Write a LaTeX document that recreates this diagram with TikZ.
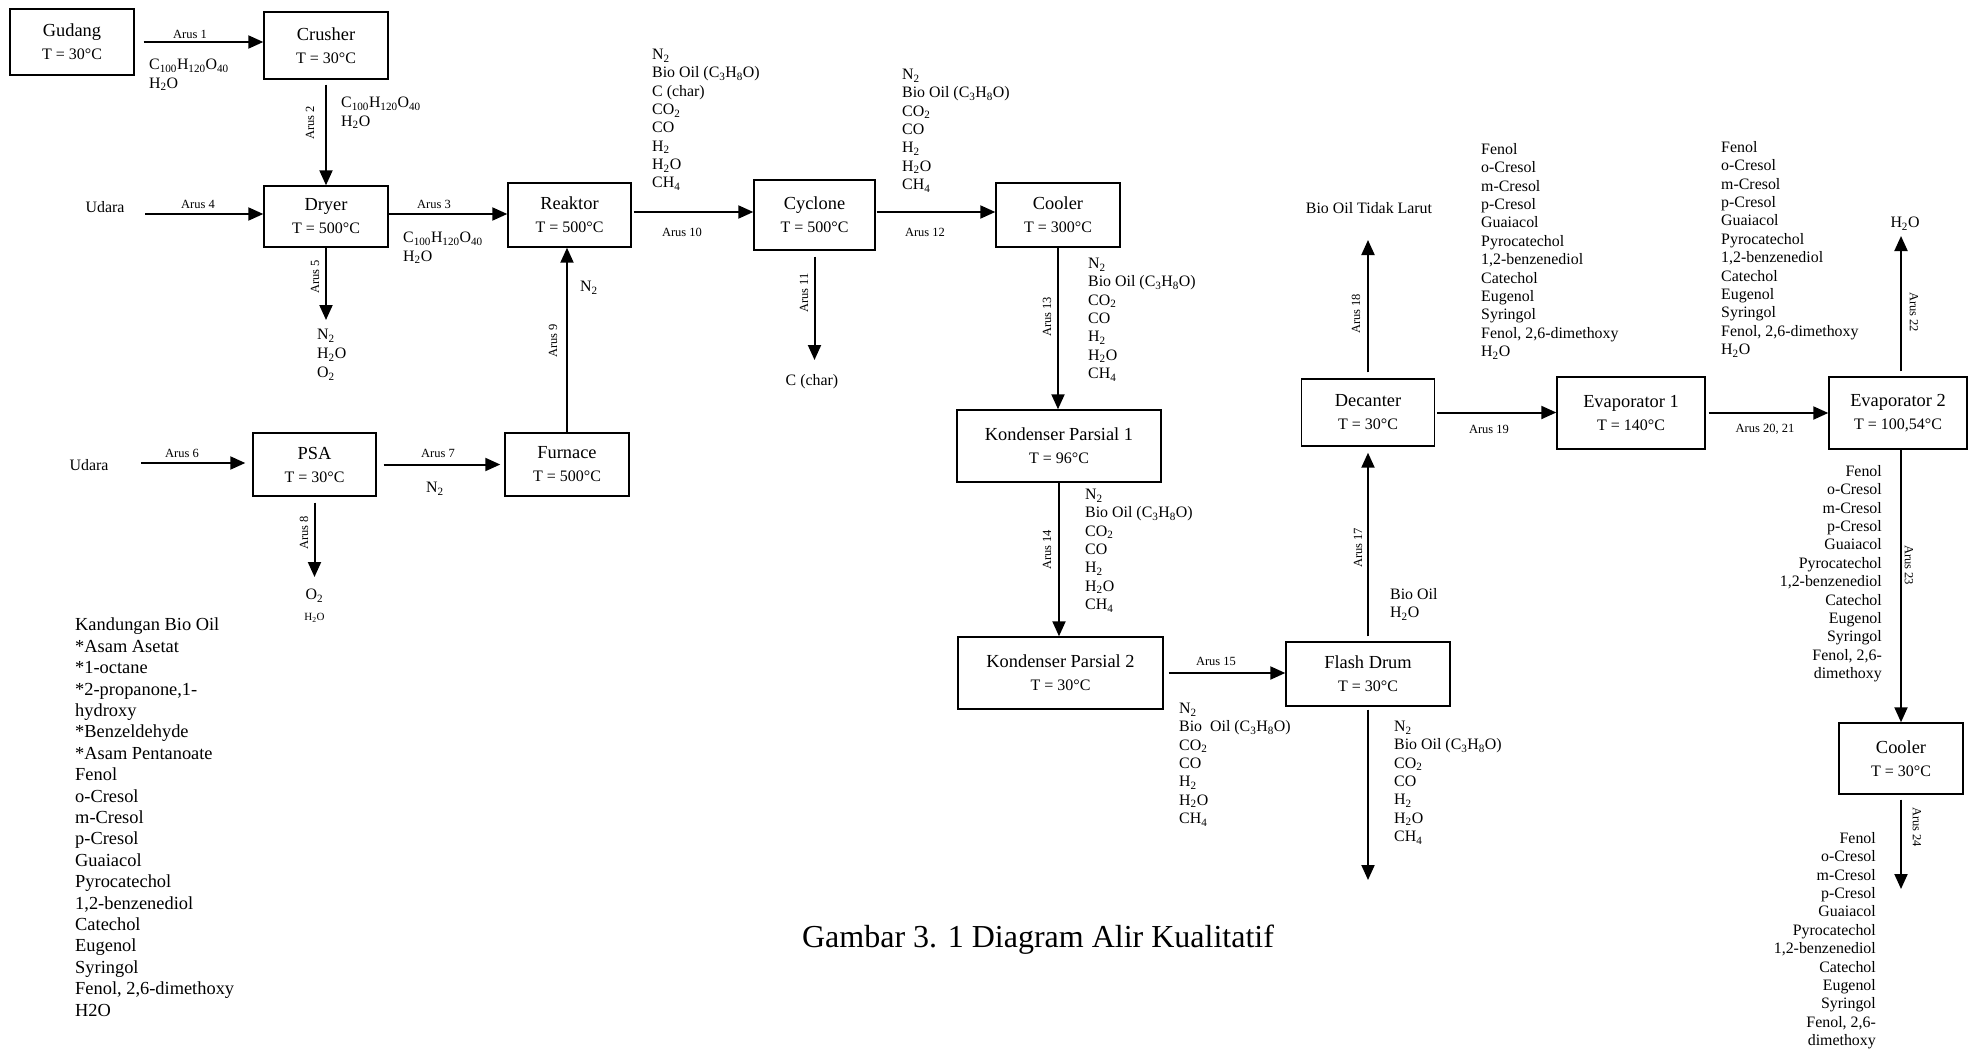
\documentclass[tikz,border=0pt]{standalone}
\usepackage{fontspec}
\setmainfont{Liberation Serif}
\usetikzlibrary{arrows.meta}
\newcommand\sbs[1]{\textsubscript{#1}}
\newcommand\bxt[2]{{\fontsize{18.4}{23}\selectfont #1}\\#2}
\newcommand\gaslist{N\sbs{2}\\Bio Oil (C\sbs{3}H\sbs{8}O)\\CO\sbs{2}\\CO\\H\sbs{2}\\H\sbs{2}O\\CH\sbs{4}}
\begin{document}
\begin{tikzpicture}[x=1pt,y=-1pt,
  box/.style={draw,line width=1.4pt,inner sep=0pt,align=center,font=\fontsize{16}{23}\selectfont},
  arr/.style={line width=2pt,-{Triangle[length=15pt,width=13pt]}},
  lab/.style={font=\fontsize{12.5}{14}\selectfont,inner sep=0pt},
  lst/.style={font=\fontsize{15.9}{18.3}\selectfont,inner sep=0pt,align=left,anchor=north west,execute at begin node=\strut},
  lstr/.style={lst,align=right,anchor=north east},
  txt/.style={font=\fontsize{15.9}{18.3}\selectfont,inner sep=0pt}]
\useasboundingbox (0,0) rectangle (1977,1052);
\fill[white] (0,0) rectangle (1977,1052);

% boxes
\node[box,minimum width=124pt,minimum height=66pt] (gudang) at (72,42) {\bxt{Gudang}{T = 30°C}};
\node[box,minimum width=124pt,minimum height=67pt] (crusher) at (326,45.5) {\bxt{Crusher}{T = 30°C}};
\node[box,minimum width=124pt,minimum height=61pt] (dryer) at (326,216.5) {\bxt{Dryer}{T = 500°C}};
\node[box,minimum width=123pt,minimum height=64pt] (reaktor) at (569.5,215) {\bxt{Reaktor}{T = 500°C}};
\node[box,minimum width=121pt,minimum height=70pt] (cyclone) at (814.5,215) {\bxt{Cyclone}{T = 500°C}};
\node[box,minimum width=124pt,minimum height=64pt] (cooler) at (1058,215) {\bxt{Cooler}{T = 300°C}};
\node[box,minimum width=204pt,minimum height=72pt] (kp1) at (1059,446) {\bxt{Kondenser Parsial 1}{T = 96°C}};
\node[box,minimum width=205pt,minimum height=72pt] (kp2) at (1060.5,673) {\bxt{Kondenser Parsial 2}{T = 30°C}};
\node[box,minimum width=164pt,minimum height=64pt] (flash) at (1368,674) {\bxt{Flash Drum}{T = 30°C}};
\node[box,minimum width=133pt,minimum height=67pt] (decanter) at (1368,412.5) {\bxt{Decanter}{T = 30°C}};
\node[box,minimum width=148pt,minimum height=72pt] (evap1) at (1631,413) {\bxt{Evaporator 1}{T = 140°C}};
\node[box,minimum width=138pt,minimum height=72pt] (evap2) at (1898,413) {\bxt{Evaporator 2}{T = 100,54°C}};
\node[box,minimum width=124pt,minimum height=71pt] (cooler2) at (1901,758.5) {\bxt{Cooler}{T = 30°C}};
\node[box,minimum width=123pt,minimum height=63pt] (psa) at (314.5,464.5) {\bxt{PSA}{T = 30°C}};
\node[box,minimum width=124pt,minimum height=63pt] (furnace) at (567,464.5) {\bxt{Furnace}{T = 500°C}};

% free ends
\coordinate (s4) at (145,214);
\coordinate (e5) at (326,320);
\coordinate (e11) at (814.5,360);
\coordinate (e16) at (1368,880);
\coordinate (e18) at (1368,240);
\coordinate (e22) at (1901,236);
\coordinate (e24) at (1901,889);
\coordinate (s6) at (141,463);
\coordinate (e8) at (314.5,577);

% connectors
\draw[arr] ([xshift=9pt]gudang.east) -- (gudang.east -| crusher.west);
\draw[arr] ([yshift=-5pt]crusher.south) -- (dryer.north);
\draw[arr] (s4) -- (s4 -| dryer.west);
\draw[arr] (s4 -| dryer.east) -- (s4 -| reaktor.west);
\draw[arr] (dryer.south) -- (e5);
\draw[arr] ([xshift=2pt,yshift=3pt]reaktor.east) -- ([yshift=3pt]cyclone.west);
\draw[arr] ([xshift=1pt,yshift=3pt]cyclone.east) -- ([yshift=3pt]cooler.west);
\draw[arr] ([yshift=-6pt]cyclone.south) -- (e11);
\draw[arr] (cooler.south) -- (cooler.south |- kp1.north);
\draw[arr] (kp1.south) -- (kp1.south |- kp2.north);
\draw[arr] ([xshift=5pt]kp2.east) -- (kp2.east -| flash.west);
\draw[arr] ([yshift=-3pt]flash.south) -- (e16);
\draw[arr] ([yshift=5pt]flash.north) -- ([yshift=-6pt]decanter.south);
\draw[arr] ([yshift=6pt]decanter.north) -- (e18);
\draw[arr] ([xshift=2pt]decanter.east) -- (decanter.east -| evap1.west);
\draw[arr] ([xshift=3pt]evap1.east) -- (evap1.east -| evap2.west);
\draw[arr] ([xshift=3pt,yshift=5pt]evap2.north) -- (e22);
\draw[arr] (cooler2.north |- evap2.south) -- (cooler2.north);
\draw[arr] ([yshift=-5pt]cooler2.south) -- (e24);
\draw[arr] (s6) -- ([xshift=-7pt]s6 -| psa.west);
\draw[arr] ([xshift=7pt]psa.east) -- ([xshift=-4pt]furnace.west);
\draw[arr] ([yshift=-6pt]psa.south) -- (e8);
\draw[arr] (furnace.north) -- (furnace.north |- reaktor.south);

% stream labels
\node[lab] (a1) at (190,34) {Arus 1};
\node[lab,rotate=90] (a2) at (310,123) {Arus 2};
\node[lab] (a4) at (198,204) {Arus 4};
\node[lab] (a3) at (434,204) {Arus 3};
\node[lab,rotate=90] (a5) at (315,277) {Arus 5};
\node[lab] (a10) at (682,232) {Arus 10};
\node[lab] (a12) at (925,232) {Arus 12};
\node[lab,rotate=90] (a11) at (804,293) {Arus 11};
\node[lab,rotate=90] (a13) at (1047,317) {Arus 13};
\node[lab,rotate=90] (a14) at (1047,550) {Arus 14};
\node[lab] (a15) at (1216,661) {Arus 15};
\node[lab,rotate=90] (a17) at (1358,548) {Arus 17};
\node[lab,rotate=90] (a18) at (1356,314) {Arus 18};
\node[lab] (a19) at (1489,429) {Arus 19};
\node[lab] (a2021) at (1765,429) {Arus 20, 21};
\node[lab,rotate=-90] (a22) at (1914,312) {Arus 22};
\node[lab,rotate=-90] (a23) at (1909,565) {Arus 23};
\node[lab,rotate=-90] (a24) at (1917,827) {Arus 24};
\node[lab] (a6) at (182,453) {Arus 6};
\node[lab] (a7) at (438,453) {Arus 7};
\node[lab,rotate=90] (a8) at (304,533) {Arus 8};
\node[lab,rotate=90] (a9) at (553,341) {Arus 9};

% composition lists
\node[lst] (f1) at (149,59) {C\sbs{100}H\sbs{120}O\sbs{40}\\H\sbs{2}O};
\node[lst] (f2) at (341,97) {C\sbs{100}H\sbs{120}O\sbs{40}\\H\sbs{2}O};
\node[lst] (f3) at (403,232) {C\sbs{100}H\sbs{120}O\sbs{40}\\H\sbs{2}O};
\node[lst,font=\fontsize{15.9}{19}\selectfont] (l5) at (317,329) {N\sbs{2}\\H\sbs{2}O\\O\sbs{2}};
\node[lst] (l10) at (652,49) {N\sbs{2}\\Bio Oil (C\sbs{3}H\sbs{8}O)\\C (char)\\CO\sbs{2}\\CO\\H\sbs{2}\\H\sbs{2}O\\CH\sbs{4}};
\node[lst] (l12) at (902,69) {\gaslist};
\node[lst] (l13) at (1088,258) {\gaslist};
\node[lst] (l14) at (1085,489) {\gaslist};
\node[lst] (l15) at (1179,703) {N\sbs{2}\\Bio\ \ Oil (C\sbs{3}H\sbs{8}O)\\CO\sbs{2}\\CO\\H\sbs{2}\\H\sbs{2}O\\CH\sbs{4}};
\node[lst] (l16) at (1394,721) {\gaslist};
\node[lst] (l17) at (1390,588) {Bio Oil\\H\sbs{2}O};
\node[lst,font=\fontsize{15.9}{18.4}\selectfont] (le1) at (1481,143) {Fenol\\o-Cresol\\m-Cresol\\p-Cresol\\Guaiacol\\Pyrocatechol\\1,2-benzenediol\\Catechol\\Eugenol\\Syringol\\Fenol, 2,6-dimethoxy\\H\sbs{2}O};
\node[lst,font=\fontsize{15.9}{18.4}\selectfont] (le2) at (1721,141) {Fenol\\o-Cresol\\m-Cresol\\p-Cresol\\Guaiacol\\Pyrocatechol\\1,2-benzenediol\\Catechol\\Eugenol\\Syringol\\Fenol, 2,6-dimethoxy\\H\sbs{2}O};
\node[lstr,font=\fontsize{15.9}{18.4}\selectfont] (l23) at (1882,465) {Fenol\\o-Cresol~\\m-Cresol\\p-Cresol~\\Guaiacol~\\Pyrocatechol\\1,2-benzenediol\\Catechol\\Eugenol\\Syringol\\Fenol, 2,6-\\dimethoxy};
\node[lstr,font=\fontsize{15.9}{18.4}\selectfont] (l24) at (1876,832) {Fenol\\o-Cresol~\\m-Cresol\\p-Cresol~\\Guaiacol~\\Pyrocatechol\\1,2-benzenediol\\Catechol\\Eugenol\\Syringol\\Fenol, 2,6-\\dimethoxy};
\node[lst,font=\fontsize{18.4}{21.4}\selectfont] (kand) at (75,618) {Kandungan Bio Oil\\*Asam Asetat\\*1-octane\\*2-propanone,1-\\hydroxy\\*Benzeldehyde\\*Asam Pentanoate\\Fenol\\o-Cresol\\m-Cresol\\p-Cresol\\Guaiacol\\Pyrocatechol\\1,2-benzenediol\\Catechol\\Eugenol\\Syringol\\Fenol, 2,6-dimethoxy\\H2O};

% single texts
\node[txt] (udara1) at (105,207) {Udara};
\node[txt] (udara2) at (89,465) {Udara};
\node[txt] (n7) at (435,489) {N\sbs{2}};
\node[txt] (n9) at (589,288) {N\sbs{2}};
\node[txt] (o8) at (314.5,596) {O\sbs{2}};
\node[txt,font=\fontsize{11}{13}\selectfont] (h8) at (314.5,618) {H\sbs{2}O};
\node[txt] (char) at (812,382) {C (char)};
\node[txt] (biotl) at (1369,208) {Bio Oil Tidak Larut};
\node[txt] (h22) at (1905,224) {H\sbs{2}O};
\node[inner sep=0pt,font=\fontsize{32}{38}\selectfont] (caption) at (1038,940) {Gambar 3. 1 Diagram Alir Kualitatif};
\end{tikzpicture}
\end{document}
